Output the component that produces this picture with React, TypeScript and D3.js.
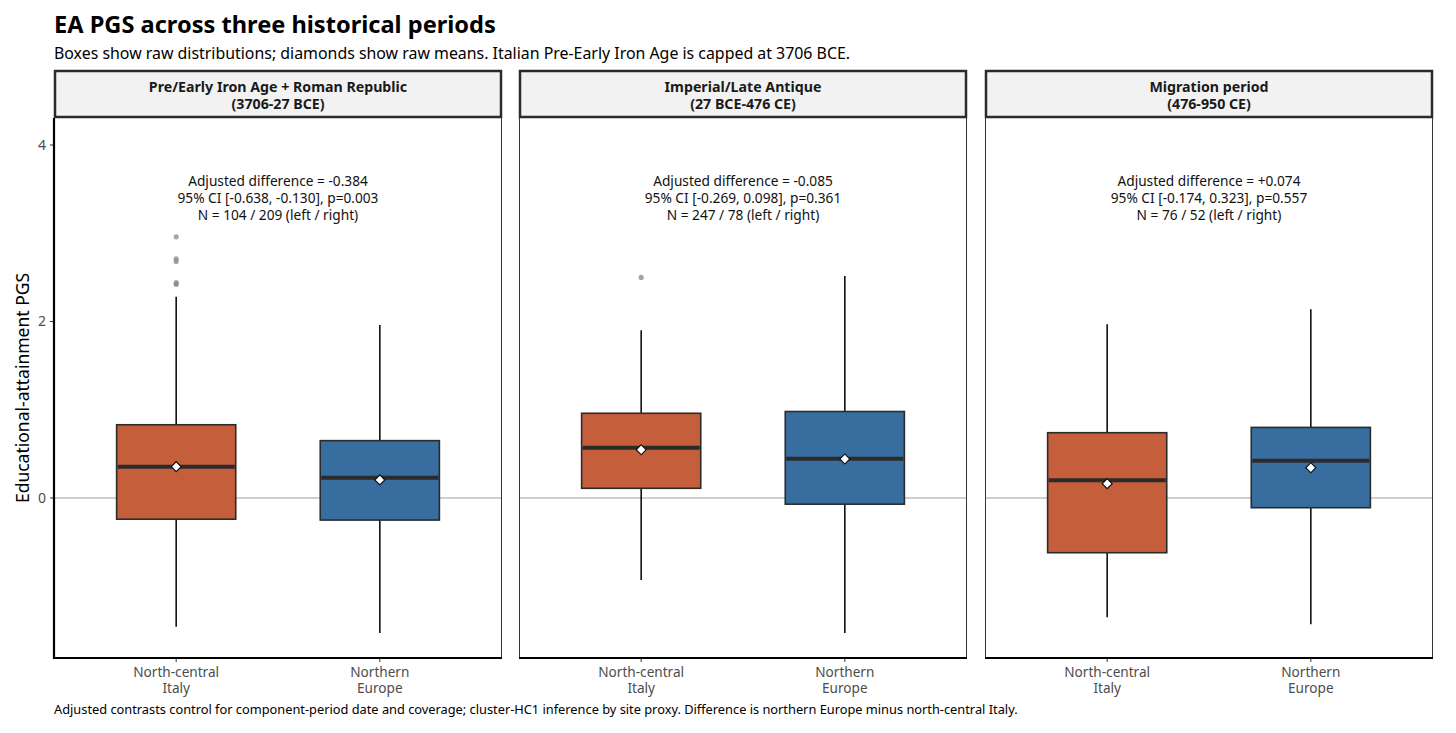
import * as d3 from "d3";

const periods = [
  ["Pre/Early Iron Age + Roman Republic", "(3706-27 BCE)"],
  ["Imperial/Late Antique", "(27 BCE-476 CE)"],
  ["Migration period", "(476-950 CE)"],
];
const groups = ["North-central Italy", "Northern Europe"];
const groupLabels = [["North-central", "Italy"], ["Northern", "Europe"]];
const groupFill = ["#c55e3b", "#376e9f"];

// per period, [italy, northern europe]
const whiskerLow = [[-1.46, -1.53], [-0.93, -1.53], [-1.35, -1.43]];
const q1 = [[-0.24, -0.25], [0.11, -0.07], [-0.62, -0.11]];
const median = [[0.355, 0.23], [0.57, 0.445], [0.2, 0.423]];
const q3 = [[0.83, 0.65], [0.96, 0.98], [0.74, 0.8]];
const whiskerHigh = [[2.28, 1.96], [1.9, 2.515], [1.97, 2.14]];
const means = [[0.355, 0.205], [0.547, 0.442], [0.162, 0.343]];
const outliers = [[[2.96, 2.71, 2.68, 2.44, 2.42], []], [[2.5], []], [[], []]];

const annotations = [
  ["Adjusted difference = -0.384", "95% CI [-0.638, -0.130], p=0.003", "N = 104 / 209 (left / right)"],
  ["Adjusted difference = -0.085", "95% CI [-0.269, 0.098], p=0.361", "N = 247 / 78 (left / right)"],
  ["Adjusted difference = +0.074", "95% CI [-0.174, 0.323], p=0.557", "N = 76 / 52 (left / right)"],
];
const yTicks = [0, 2, 4];

const font = "'Noto Sans', 'Open Sans', sans-serif";

export default function App() {
  const W = 1456;
  const H = 733;
  const panelX = [54, 519, 985];
  const panelW = 448;
  const stripTop = 70;
  const panelTop = 118;
  const panelBottom = 658;

  const y = d3.scaleLinear().domain([-1.813, 4.306]).range([panelBottom, panelTop]);

  return (
    <svg width={W} height={H} style={{ position: "absolute", left: 0, top: 0, background: "#fff" }} fontFamily={font}>
      <text x={54} y={33} fontSize={23.6} fontWeight="bold" fill="#000">EA PGS across three historical periods</text>
      <text x={54} y={59} fontSize={15.9} fill="#000">
        Boxes show raw distributions; diamonds show raw means. Italian Pre-Early Iron Age is capped at 3706 BCE.
      </text>

      {/* y axis */}
      <text transform={`translate(29,${(panelTop + panelBottom) / 2}) rotate(-90)`} textAnchor="middle" fontSize={17.5} fill="#000">
        Educational-attainment PGS
      </text>
      {yTicks.map((t) => (
        <g key={t} transform={`translate(0,${y(t)})`}>
          <line x1={50} x2={54} stroke="#333" strokeWidth={1} />
          <text x={46} dy="0.35em" textAnchor="end" fontSize={14} fill="#4d4d4d">{t}</text>
        </g>
      ))}

      {periods.map((p, pi) => {
        const x0 = panelX[pi];
        const x = d3.scalePoint<string>().domain(groups).range([x0, x0 + panelW]).padding(0.6);
        const bw = x.step() * 0.585;
        const cx = x0 + panelW / 2;
        return (
          <g key={pi}>
            {/* zero reference */}
            <line x1={x0} x2={x0 + panelW} y1={y(0)} y2={y(0)} stroke="#bebebe" strokeWidth={1.5} />

            {groups.map((g, gi) => {
              const gx = x(g)!;
              return (
                <g key={g}>
                  <line x1={gx} x2={gx} y1={y(whiskerHigh[pi][gi])} y2={y(q3[pi][gi])} stroke="#111" strokeWidth={1.6} />
                  <line x1={gx} x2={gx} y1={y(q1[pi][gi])} y2={y(whiskerLow[pi][gi])} stroke="#111" strokeWidth={1.6} />
                  <rect
                    x={gx - bw / 2}
                    y={y(q3[pi][gi])}
                    width={bw}
                    height={y(q1[pi][gi]) - y(q3[pi][gi])}
                    fill={groupFill[gi]}
                    stroke="#2b2b2b"
                    strokeWidth={1.6}
                  />
                  <line x1={gx - bw / 2 + 1} x2={gx + bw / 2 - 1} y1={y(median[pi][gi])} y2={y(median[pi][gi])} stroke="#2b2b2b" strokeWidth={4} />
                  {outliers[pi][gi].map((v, oi) => (
                    <circle key={oi} cx={gx} cy={y(v)} r={2.6} fill="#7f7f7f" fillOpacity={0.7} />
                  ))}
                  <path
                    d={d3.symbol(d3.symbolSquare, 50)()!}
                    transform={`translate(${gx},${y(means[pi][gi])}) rotate(45)`}
                    fill="#fff"
                    stroke="#111"
                    strokeWidth={1.2}
                  />
                  <line x1={gx} x2={gx} y1={panelBottom} y2={panelBottom + 4} stroke="#333" />
                  {groupLabels[gi].map((l, li) => (
                    <text key={li} x={gx} y={676.5 + li * 16.5} textAnchor="middle" fontSize={13.6} fill="#4d4d4d">{l}</text>
                  ))}
                </g>
              );
            })}

            {annotations[pi].map((a, ai) => (
              <text key={ai} x={cx} y={186 + ai * 17} textAnchor="middle" fontSize={13.7} fill="#111">{a}</text>
            ))}

            {/* panel frame */}
            <line x1={x0 + 0.5} x2={x0 + 0.5} y1={panelTop} y2={panelBottom} stroke="#333" strokeWidth={1} />
            <line x1={x0 + panelW - 0.5} x2={x0 + panelW - 0.5} y1={panelTop} y2={panelBottom} stroke="#333" strokeWidth={1} />
            <line x1={x0} x2={x0 + panelW} y1={panelBottom} y2={panelBottom} stroke="#000" strokeWidth={2.2} />
            {pi === 0 && <line x1={x0} x2={x0} y1={panelTop} y2={panelBottom + 1} stroke="#000" strokeWidth={2.2} />}

            {/* strip */}
            <rect x={x0 + 1} y={stripTop + 1} width={panelW - 2} height={panelTop - stripTop - 2} fill="#f2f2f2" stroke="#2b2b2b" strokeWidth={2.5} />
            {p.map((l, li) => (
              <text key={li} x={cx} y={91.5 + li * 17.3} textAnchor="middle" fontSize={14.2} fontWeight="bold" fill="#1a1a1a">{l}</text>
            ))}
          </g>
        );
      })}

      <text x={54} y={714} fontSize={12.8} fill="#000">
        Adjusted contrasts control for component-period date and coverage; cluster-HC1 inference by site proxy. Difference is northern Europe minus north-central Italy.
      </text>
    </svg>
  );
}
